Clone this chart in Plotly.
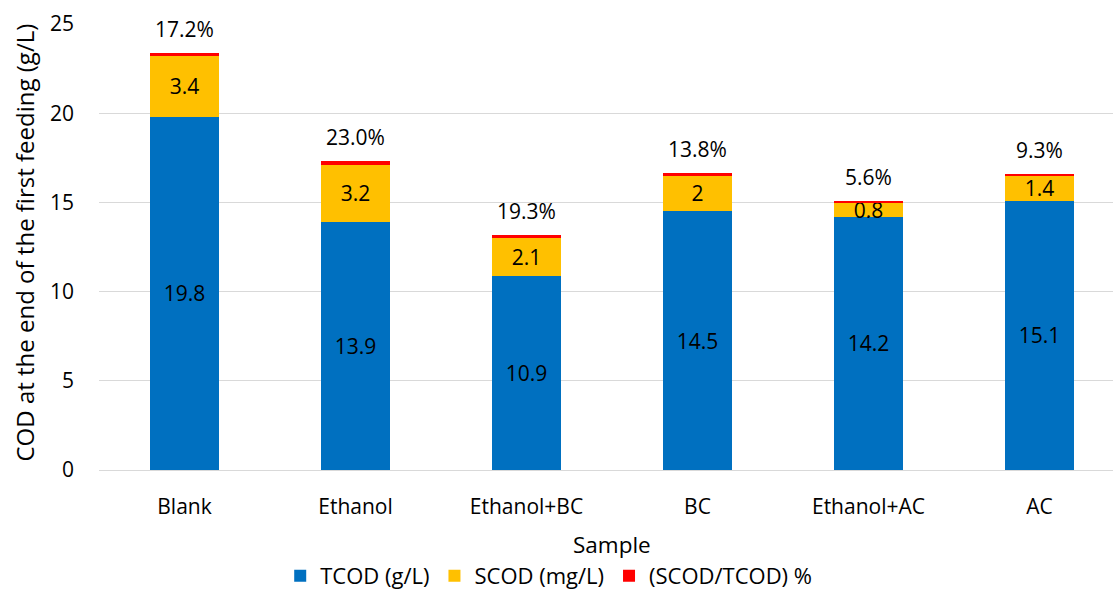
import plotly.graph_objects as go

# Chemical oxygen demand at the end of the first feeding, per sample
samples = ["Blank", "Ethanol", "Ethanol+BC", "BC", "Ethanol+AC", "AC"]
tcod = [19.8, 13.9, 10.9, 14.5, 14.2, 15.1]
scod = [3.4, 3.2, 2.1, 2.0, 0.8, 1.4]
ratio = [0.172, 0.230, 0.193, 0.138, 0.056, 0.093]  # SCOD/TCOD as a fraction

x_title = "Sample"
y_title = "COD at the end of the first feeding (g/L)"

FONT = "Open Sans, sans-serif"
SIZE = 21
BLUE = "#0070C0"
YELLOW = "#FFC000"
RED = "#FF0000"

W, H = 1113, 590
ML = 99  # left margin in px

fig = go.Figure()
fig.add_trace(go.Bar(
    name="TCOD (g/L)", x=samples, y=tcod, marker=dict(color=BLUE, line_width=0),
    texttemplate="%{y:.1f}", textposition="inside", insidetextanchor="middle",
    constraintext="none", textfont=dict(color="black", size=SIZE, family=FONT),
))
fig.add_trace(go.Bar(
    name="SCOD (mg/L)", x=samples, y=scod, marker=dict(color=YELLOW, line_width=0),
    texttemplate="%{y}", textposition="inside", insidetextanchor="middle",
    constraintext="none", textfont=dict(color="black", size=SIZE, family=FONT),
))
fig.add_trace(go.Bar(
    name="(SCOD/TCOD) %", x=samples, y=ratio, marker=dict(color=RED, line_width=0),
))

# Percentage labels sit above each stack
for s, t, c, r in zip(samples, tcod, scod, ratio):
    fig.add_annotation(
        x=s, y=t + c + r, text=f"{r * 100:.1f}%", showarrow=False,
        yanchor="bottom", yshift=8, font=dict(size=SIZE, color="black", family=FONT),
    )

# Axis titles as fixed annotations so the plot area keeps its size
fig.add_annotation(
    x=2.5, xref="x", y=-0.168, yref="paper", text=x_title, showarrow=False,
    xanchor="center", yanchor="middle", font=dict(size=22.5, family=FONT),
)
fig.add_annotation(
    x=(25 - ML) / (W - ML), xref="paper", y=0.51, yref="paper",
    text=y_title, showarrow=False, textangle=-90,
    xanchor="center", yanchor="middle", font=dict(size=24, family=FONT),
)

fig.update_layout(
    barmode="stack",
    bargap=0.6,
    width=W, height=H,
    margin=dict(l=ML, r=0, t=24, b=120),
    plot_bgcolor="white", paper_bgcolor="white",
    font=dict(family=FONT, size=SIZE, color="black"),
    legend=dict(
        orientation="h", xref="container", yref="container",
        x=0.493, xanchor="center", y=0.024, yanchor="middle",
        font=dict(size=22), itemwidth=30, traceorder="normal",
    ),
    xaxis=dict(
        range=[-0.5, 5.43], showgrid=False, showline=True, linecolor="#D9D9D9",
        linewidth=1, ticks="", ticklabelstandoff=18, automargin=False,
        tickfont=dict(size=SIZE),
    ),
    yaxis=dict(
        range=[0, 25], dtick=5, showgrid=True, gridcolor="#D9D9D9", gridwidth=1,
        zeroline=False, showline=False, ticks="", ticklabelstandoff=24,
        automargin=False, tickfont=dict(size=SIZE),
    ),
)

fig.write_html("out.html")
